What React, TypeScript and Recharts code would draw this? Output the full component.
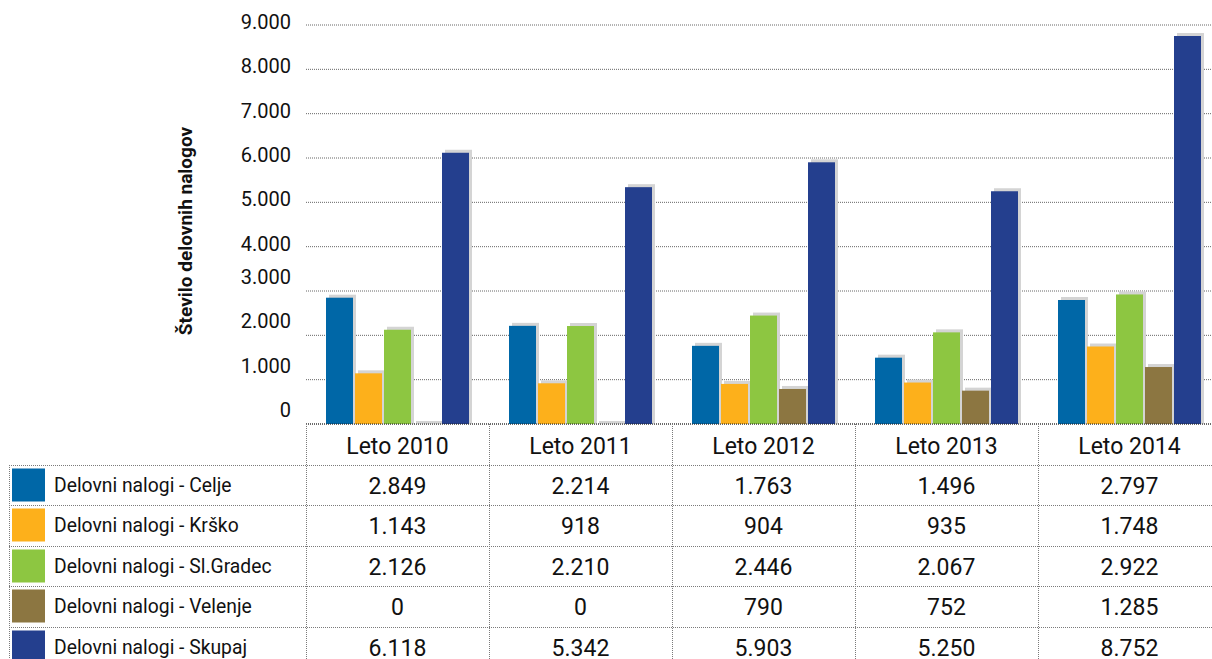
import { Bar, BarChart, CartesianGrid, XAxis, YAxis } from "recharts"

const categories = ["Leto 2010", "Leto 2011", "Leto 2012", "Leto 2013", "Leto 2014"]
const celje = [2849, 2214, 1763, 1496, 2797]
const krsko = [1143, 918, 904, 935, 1748]
const slGradec = [2126, 2210, 2446, 2067, 2922]
const velenje = [0, 0, 790, 752, 1285]
const skupaj = [6118, 5342, 5903, 5250, 8752]
const yTicks = [0, 1000, 2000, 3000, 4000, 5000, 6000, 7000, 8000, 9000]

const series = [
    { key: "celje", name: "Delovni nalogi - Celje", values: celje, color: "#0067A7" },
    { key: "krsko", name: "Delovni nalogi - Krško", values: krsko, color: "#FDB01B" },
    { key: "slGradec", name: "Delovni nalogi - Sl.Gradec", values: slGradec, color: "#8DC641" },
    { key: "velenje", name: "Delovni nalogi - Velenje", values: velenje, color: "#8C7641" },
    { key: "skupaj", name: "Delovni nalogi - Skupaj", values: skupaj, color: "#243F8E" },
]

const data = categories.map((category, i) => {
    const row: Record<string, string | number> = { category }
    series.forEach((s) => (row[s.key] = s.values[i]))
    return row
})

const FONT = "Roboto, 'Noto Sans', sans-serif"
const COL_W = 183
const AXIS_Y = 424
const ROW_TOP = 465
const ROW_H = 40.4
const LINE = "#7a7a7a"

const fmt = (v: number) => String(v).replace(/\B(?=(\d{3})+(?!\d))/g, ".")

// gray drop shadow behind every bar
const ShadowBar = (props: any) => {
    const { x, y, width, height, fill } = props
    return (
        <g>
            <rect x={x + 3} y={y - 3} width={width} height={height + 3} fill="#d4d4d4" />
            <rect x={x} y={y} width={width} height={height} fill={fill} />
        </g>
    )
}

const YTick = (props: any) => {
    const { y, payload } = props
    const off = payload.value >= 4000 ? -3 : -14
    return (
        <text x={291} y={y + off + 7} textAnchor="end" fontSize={20} fill="#111" fontFamily={FONT}>
            {fmt(payload.value)}
        </text>
    )
}

// each x tick draws one column of the data table
const TableColumn = (props: any) => {
    const { x, payload } = props
    const i = payload.index
    const left = Math.round(x - COL_W / 2) + 0.5
    return (
        <g fontFamily={FONT} fill="#111">
            <line x1={left} x2={left} y1={AXIS_Y} y2={659} stroke={LINE} strokeDasharray="1 1" />
            <text x={x} y={454} textAnchor="middle" fontSize={23}>
                {payload.value}
            </text>
            {series.map((s, k) => (
                <text key={s.key} x={x} y={ROW_TOP + k * ROW_H + 29} textAnchor="middle" fontSize={23}>
                    {fmt(s.values[i])}
                </text>
            ))}
        </g>
    )
}

export default function App() {
    return (
        <div
            style={{
                position: "absolute",
                left: 0,
                top: 0,
                width: 1212,
                height: 659,
                overflow: "hidden",
                background: "#fff",
            }}
        >
            <BarChart
                width={1221}
                height={659}
                data={data}
                margin={{ top: 25, right: 0, bottom: 0, left: 0 }}
                barSize={27}
                barGap={2}
            >
                <CartesianGrid vertical={false} stroke="#666" strokeDasharray="1 1" />
                <XAxis
                    dataKey="category"
                    height={235}
                    axisLine={{ stroke: "#222", strokeDasharray: "1 1" }}
                    tickLine={false}
                    interval={0}
                    tick={<TableColumn />}
                />
                <YAxis
                    width={306}
                    domain={[0, 9000]}
                    ticks={yTicks}
                    axisLine={false}
                    tickLine={false}
                    tick={<YTick />}
                    label={{
                        content: () => (
                            <text
                                transform="translate(192,231) rotate(-90)"
                                textAnchor="middle"
                                fontSize={19}
                                fontWeight={700}
                                fill="#111"
                                fontFamily={FONT}
                            >
                                Število delovnih nalogov
                            </text>
                        ),
                    }}
                />
                {series.map((s) => (
                    <Bar
                        key={s.key}
                        dataKey={s.key}
                        name={s.name}
                        fill={s.color}
                        shape={<ShadowBar />}
                        isAnimationActive={false}
                    />
                ))}
            </BarChart>
            <svg
                width={1212}
                height={659}
                style={{ position: "absolute", left: 0, top: 0, pointerEvents: "none" }}
                fontFamily={FONT}
            >
                <line x1={9.5} x2={9.5} y1={ROW_TOP} y2={659} stroke={LINE} strokeDasharray="1 1" />
                {series.map((s, k) => {
                    const top = Math.round(ROW_TOP + k * ROW_H) + 0.5
                    return (
                        <g key={s.key}>
                            <line x1={9} x2={1212} y1={top} y2={top} stroke={LINE} strokeDasharray="1 1" />
                            <rect x={12} y={top + 3} width={33} height={33} fill={s.color} />
                            <text
                                transform={`translate(54 ${top + 26.5}) scale(0.92 1)`}
                                fontSize={21}
                                fill="#111"
                            >
                                {s.name}
                            </text>
                        </g>
                    )
                })}
            </svg>
        </div>
    )
}
